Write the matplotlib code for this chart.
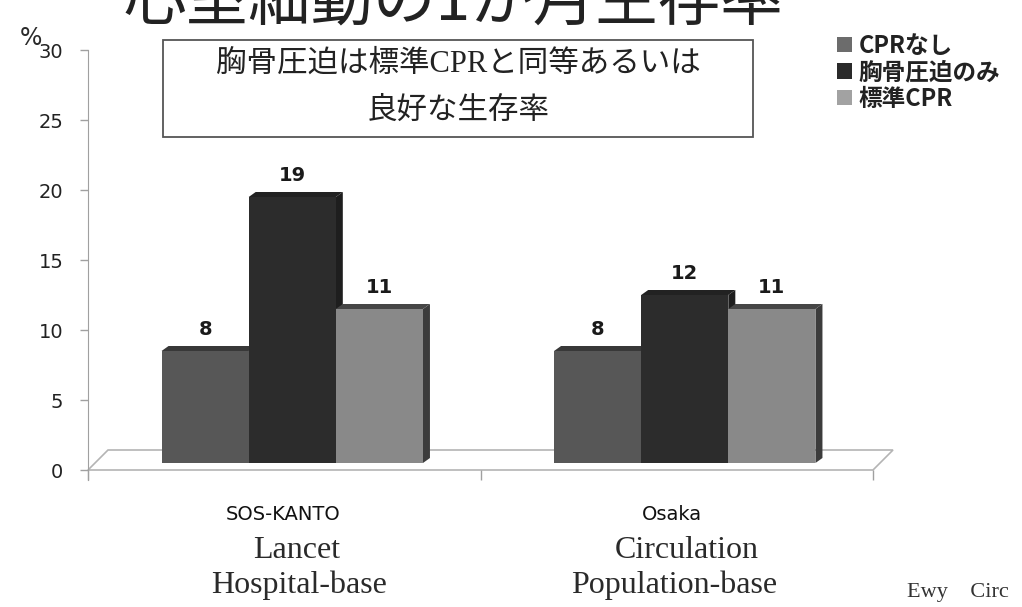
import numpy as np
import matplotlib
matplotlib.use("Agg")
import matplotlib.pyplot as plt
from matplotlib.patches import Polygon, Rectangle, Patch
from matplotlib.transforms import ScaledTranslation

# ── data ────────────────────────────────────────────────────────────────────
studies = ["SOS-KANTO", "Osaka"]
journals = ["Lancet", "Circulation"]
study_base = ["Hospital-base", "Population-base"]
series = ["CPRなし", "胸骨圧迫のみ", "標準CPR"]
no_cpr = [8, 8]
cc_only = [19, 12]
standard_cpr = [11, 11]
y_ticks = [0, 5, 10, 15, 20, 25, 30]

title = "心室細動の1か月生存率"
note = "胸骨圧迫は標準CPRと同等あるいは\n良好な生存率"
source = "Ewy    Circ"

# front / side / top colours per series
front_c = ["#575757", "#2c2c2c", "#898989"]
side_c = ["#3a3a3a", "#1e1e1e", "#3c3c3c"]
top_c = ["#383838", "#222222", "#464646"]
legend_c = ["#6c6c6c", "#2a2a2a", "#a2a2a2"]

JP = ["Noto Sans CJK JP", "DejaVu Sans"]
SERIF_JP = ["Liberation Serif", "Noto Sans CJK JP"]

W, H = 1022, 607
fig = plt.figure(figsize=(W / 100, H / 100), dpi=100)
ax = fig.add_axes([88 / W, (H - 480) / H, 785 / W, 430 / H])
ax.set_xlim(0, 2)
ax.set_ylim(-10 / 14, 30)

px_x = 785 / 2      # pixels per x unit
px_y = 14           # pixels per y unit

# bars sit half-way into the floor depth
bar_tf = ax.transData + ScaledTranslation(8 / 100, 7 / 100, fig.dpi_scale_trans)
ddx, ddy = 7 / px_x, 5 / px_y          # bar depth
fdx, fdy = 20 / px_x, 20 / px_y        # floor depth

floor = Polygon([(0, 0), (2, 0), (2 + fdx, fdy), (fdx, fdy)], closed=True,
                facecolor="white", edgecolor="#b4b4b4", lw=1.2, zorder=0.5,
                clip_on=False)
ax.add_patch(floor)

values = [no_cpr, cc_only, standard_cpr]
width = 0.222
z = 2
for g in range(len(studies)):
    for i, vals in enumerate(values):
        v = vals[g]
        xc = g + 0.5 + (i - 1) * width
        x0, x1 = xc - width / 2, xc + width / 2
        ax.add_patch(Polygon([(x1, 0), (x1 + ddx, ddy), (x1 + ddx, v + ddy), (x1, v)],
                             closed=True, facecolor=side_c[i], edgecolor="none",
                             transform=bar_tf, zorder=z, clip_on=False))
        ax.bar(xc, v, width, color=front_c[i], edgecolor="none",
               transform=bar_tf, zorder=z + 1, clip_on=False)
        ax.add_patch(Polygon([(x0, v), (x1, v), (x1 + ddx, v + ddy), (x0 + ddx, v + ddy)],
                             closed=True, facecolor=top_c[i], edgecolor="none",
                             transform=bar_tf, zorder=z + 2, clip_on=False))
        ax.annotate(f"{v}", (xc, v + ddy), xycoords=bar_tf, xytext=(0, 5),
                    textcoords="offset points", ha="center", va="bottom",
                    fontsize=14, fontweight="bold", color="#1a1a1a", zorder=20)
        z += 3

ax.set_xlim(0, 2)
ax.set_ylim(-10 / 14, 30)

# ── axes styling ────────────────────────────────────────────────────────────
for s in ["top", "right", "bottom"]:
    ax.spines[s].set_visible(False)
ax.spines["left"].set_color("#a0a0a0")
ax.set_yticks(y_ticks)
ax.set_yticklabels([str(t) for t in y_ticks])
ax.tick_params(axis="y", direction="out", length=5.8, width=1, color="#a0a0a0",
               labelsize=14, labelcolor="#222222", pad=12)
ax.set_xticks([0, 1, 2])
ax.set_xticklabels([])
ax.tick_params(axis="x", direction="in", length=7.2, width=1, color="#a0a0a0")
ax.patch.set_alpha(0)

fig.text(31 / W, 1 - 38 / H, "%", fontsize=17, ha="center", va="center",
         color="#2a2a2a")

# ── title (cut off at top of the slide, as in the scan) ─────────────────────
fig.text(453 / W, 1 - 3 / H, title, family=JP, fontsize=45, ha="center",
         va="center", color="#222222")

# ── note box ────────────────────────────────────────────────────────────────
fig.patches.append(Rectangle((163 / W, 1 - 137 / H), 590 / W, 97 / H,
                             transform=fig.transFigure, facecolor="white",
                             edgecolor="#555555", lw=1.3))
note_lines = note.split("\n")
fig.text(458 / W, 1 - 64 / H, note_lines[0], family=SERIF_JP, fontsize=22,
         ha="center", va="center", color="#222222")
fig.text(458 / W, 1 - 111 / H, note_lines[1], family=SERIF_JP, fontsize=22,
         ha="center", va="center", color="#222222")

# ── legend ──────────────────────────────────────────────────────────────────
handles = [Patch(facecolor=c, edgecolor="none") for c in legend_c]
leg = ax.legend(handles, series, loc="upper left",
                bbox_to_anchor=(837 / W, 1 - 34 / H),
                bbox_transform=fig.transFigure, frameon=False,
                prop={"family": JP, "weight": "bold", "size": 17},
                handlelength=0.62, handleheight=0.62, handletextpad=0.3,
                labelspacing=0.1, borderpad=0, borderaxespad=0)
for t in leg.get_texts():
    t.set_color("#222222")

# ── category labels ─────────────────────────────────────────────────────────
label_x = [[283, 297, 299], [672, 687, 674]]
for g in range(len(studies)):
    fig.text(label_x[g][0] / W, 1 - 515 / H, studies[g], fontsize=14,
             fontweight="medium", ha="center", va="center", color="#111111")
    fig.text(label_x[g][1] / W, 1 - 550 / H, journals[g], family="Liberation Serif",
             fontsize=23, ha="center", va="center", color="#2a2a2a")
    fig.text(label_x[g][2] / W, 1 - 585 / H, study_base[g], family="Liberation Serif",
             fontsize=23, ha="center", va="center", color="#2a2a2a")

fig.text(907 / W, 1 - 592 / H, source, family="Liberation Serif", fontsize=16,
         ha="left", va="center", color="#333333")

fig.savefig("out.png", dpi=100)
